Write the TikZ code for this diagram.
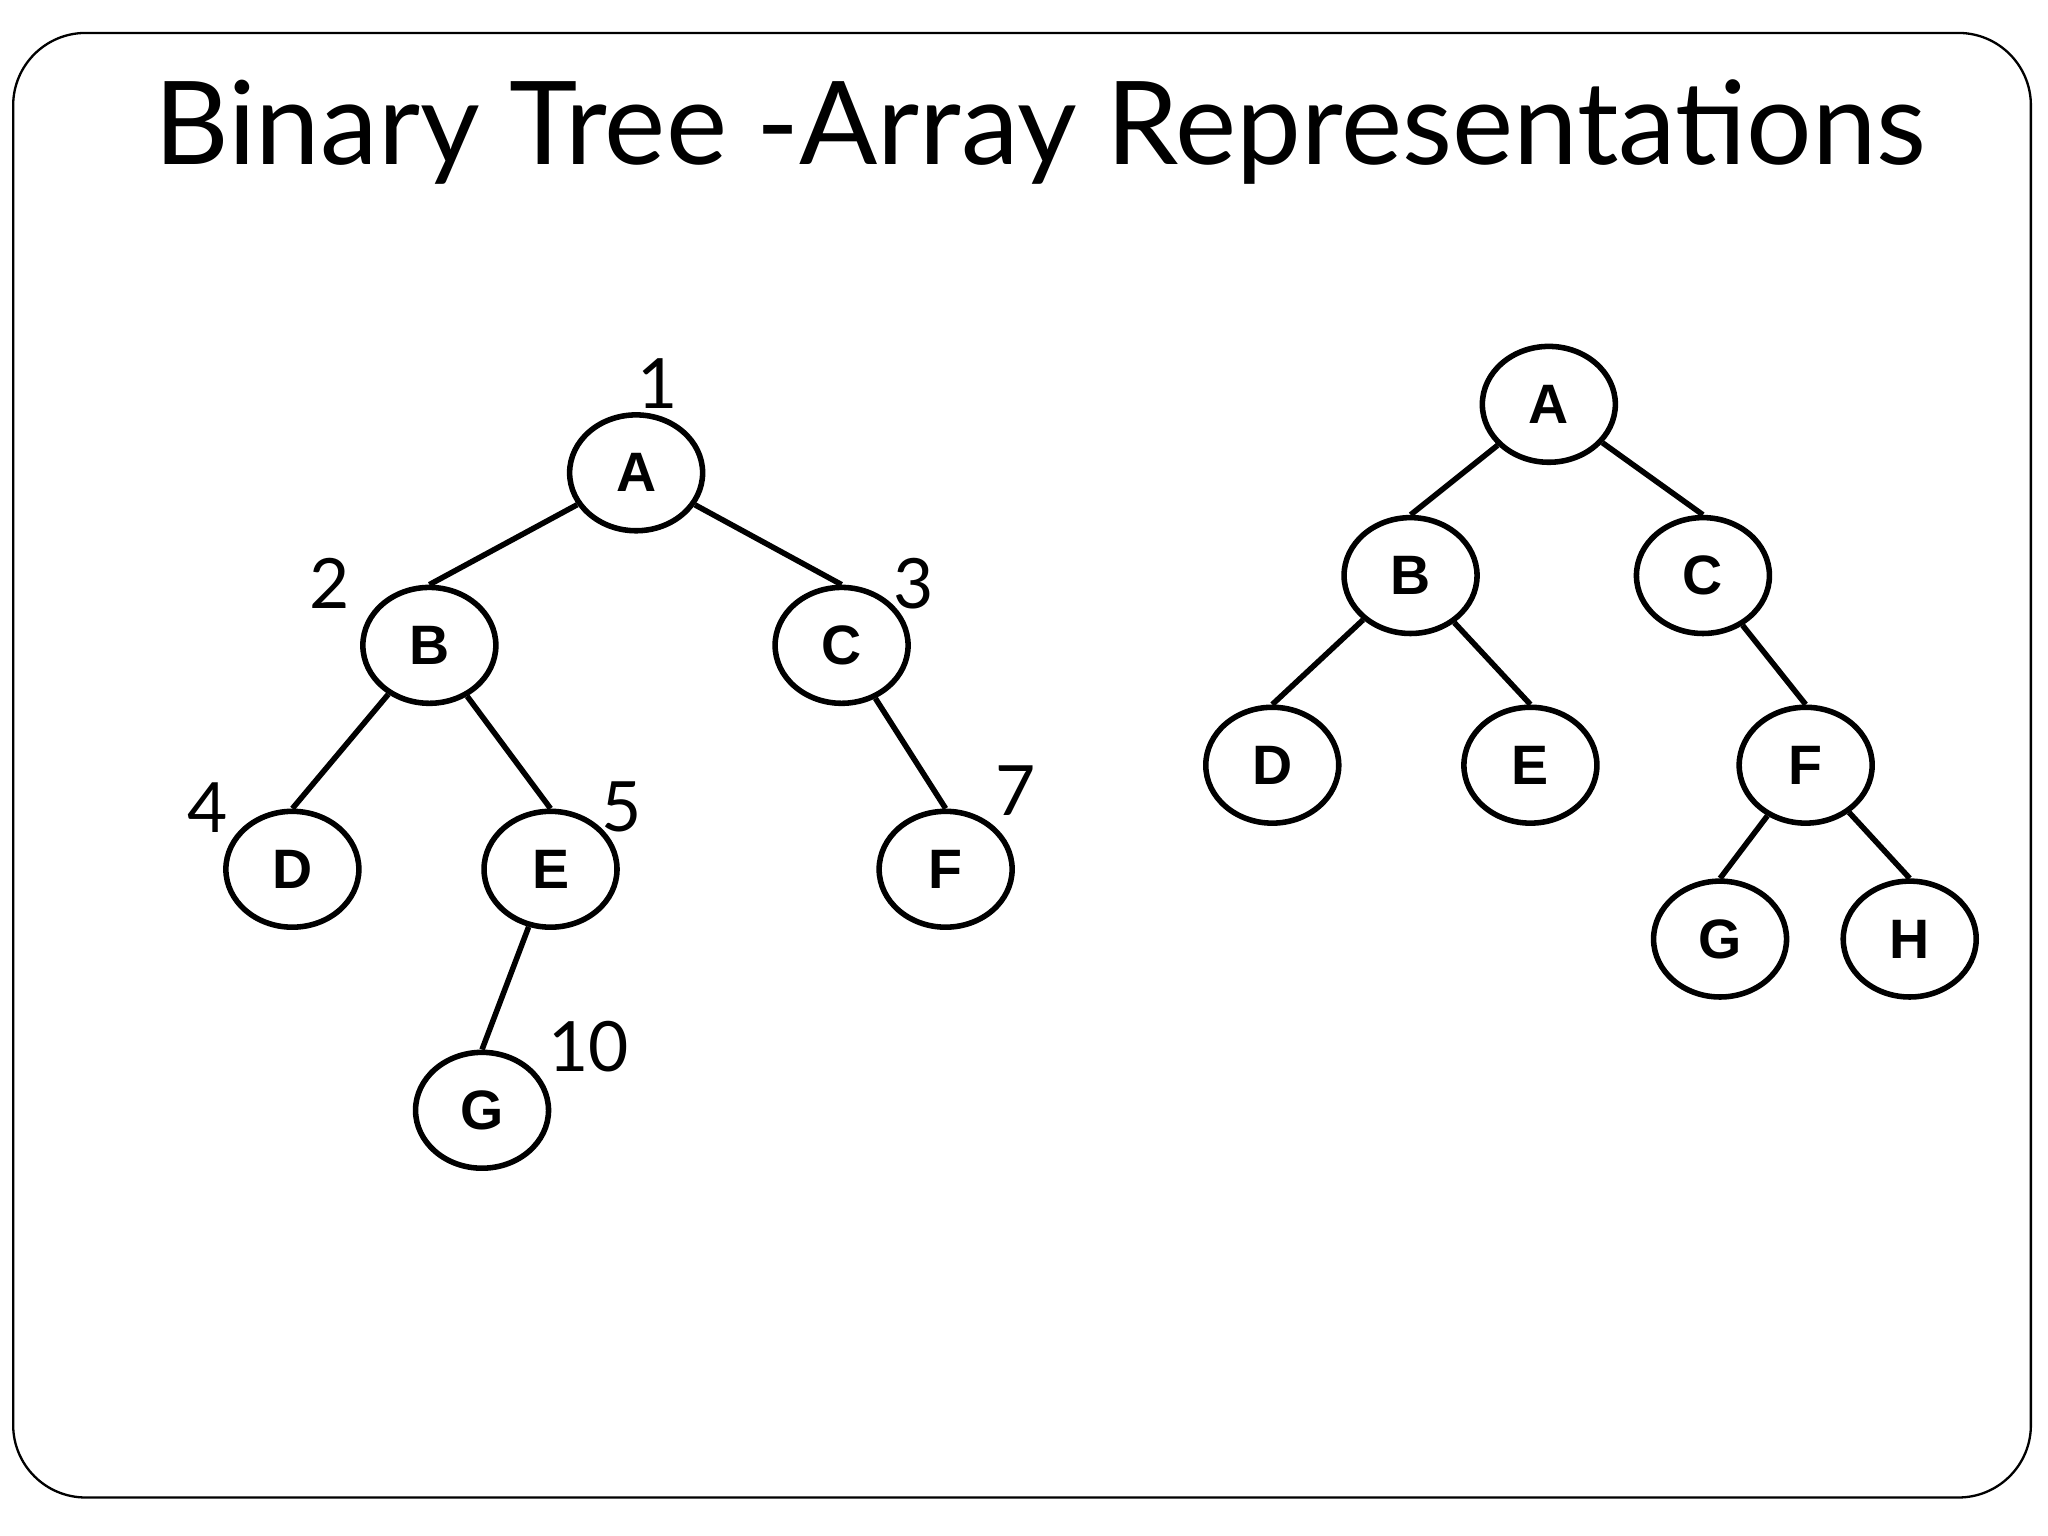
\documentclass[tikz,border=0pt]{standalone}
\usepackage{fontspec}
\setmainfont{Lato}
\newfontfamily\arialf{Liberation Sans}
\usetikzlibrary{shapes.geometric}
\begin{document}
\begin{tikzpicture}[x=0.02cm,y=-0.02cm,
  tnode/.style={ellipse,draw,line width=2.4pt,minimum width=2.02cm,minimum height=1.76cm,inner sep=0pt,font=\arialf\bfseries\fontsize{24}{24}\selectfont},
  edge/.style={line width=2.4pt},
  idx/.style={font=\fontsize{30}{30}\selectfont,inner sep=0pt}]
\useasboundingbox (0,0) rectangle (1555,1166);
\draw[line width=1pt,rounded corners=1.1cm] (10,25) rectangle (1542,1137);
\node[font=\fontsize{50}{50}\selectfont] (title) at (790,100) {Binary Tree -Array Representations};
% left tree
\node[tnode] (A) at (483,359) {A};
\node[tnode] (B) at (326,490) {B};
\node[tnode] (C) at (639,490) {C};
\node[tnode] (D) at (222,660) {D};
\node[tnode] (E) at (418,660) {E};
\node[tnode] (F) at (718,660) {F};
\node[tnode] (G) at (366,843) {G};
\draw[edge] (A) -- (B.north);
\draw[edge] (A) -- (C.north);
\draw[edge] (B) -- (D.north);
\draw[edge] (B) -- (E.north);
\draw[edge] (C) -- (F.north);
\draw[edge] (E) -- (G.north);
\node[idx] (n1) at (499,291) {1};
\node[idx] (n2) at (250,443) {2};
\node[idx] (n3) at (694,443) {3};
\node[idx] (n4) at (158,613) {4};
\node[idx] (n5) at (472,613) {5};
\node[idx] (n7) at (771,600) {7};
\node[idx] (n10) at (447,795) {10};
% right tree
\node[tnode] (rA) at (1176,307) {A};
\node[tnode] (rB) at (1071,437) {B};
\node[tnode] (rC) at (1293,437) {C};
\node[tnode] (rD) at (966,581) {D};
\node[tnode] (rE) at (1162,581) {E};
\node[tnode] (rF) at (1371,581) {F};
\node[tnode] (rG) at (1306,713) {G};
\node[tnode] (rH) at (1450,713) {H};
\draw[edge] (rA) -- (rB.north);
\draw[edge] (rA) -- (rC.north);
\draw[edge] (rB) -- (rD.north);
\draw[edge] (rB) -- (rE.north);
\draw[edge] (rC) -- (rF.north);
\draw[edge] (rF) -- (rG.north);
\draw[edge] (rF) -- (rH.north);
\end{tikzpicture}
\end{document}
